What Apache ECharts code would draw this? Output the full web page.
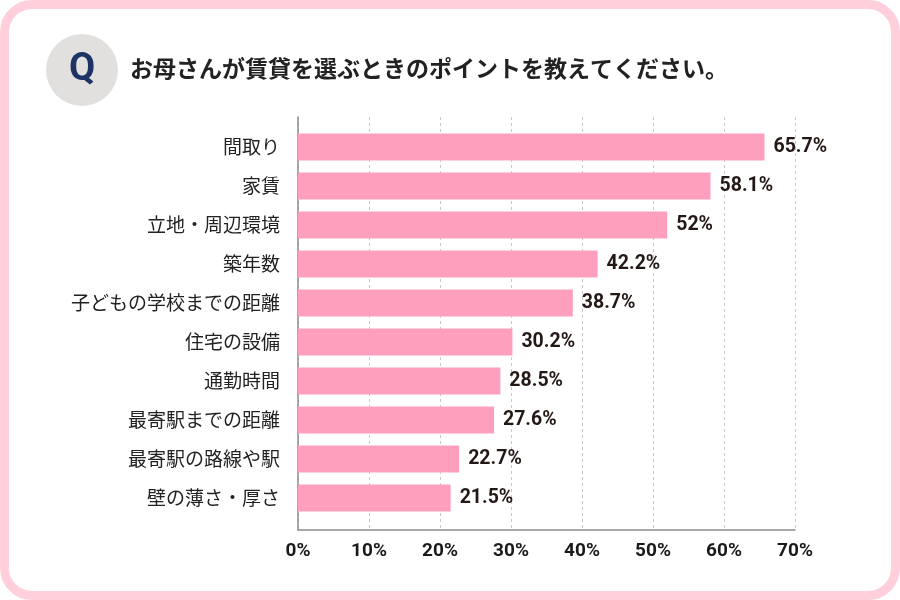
<!DOCTYPE html>
<html>
<head>
<meta charset="utf-8">
<script src="https://cdn.jsdelivr.net/npm/echarts@6/dist/echarts.min.js"></script>
<style>
  html, body { margin: 0; padding: 0; background: #fff; }
  #frame {
    position: absolute; left: 0; top: 0; width: 900px; height: 600px;
    box-sizing: border-box; border: 9px solid #ffd0dc; border-radius: 32px; background: #fff;
  }
  #chart { position: absolute; left: 0; top: 0; width: 900px; height: 600px; }
</style>
</head>
<body>
<div id="frame"></div>
<div id="chart"></div>
<script>
var questionText = 'お母さんが賃貸を選ぶときのポイントを教えてください。';

var categories = [
    '間取り', '家賃', '立地・周辺環境', '築年数', '子どもの学校までの距離',
    '住宅の設備', '通勤時間', '最寄駅までの距離', '最寄駅の路線や駅', '壁の薄さ・厚さ'
];
var percents = [65.7, 58.1, 52, 42.2, 38.7, 30.2, 28.5, 27.6, 22.7, 21.5];

var axisMin = 0;
var axisMax = 70;
var axisStep = 10;

var chartDom = document.getElementById('chart');
var myChart = echarts.init(chartDom);

var jpFont = '"Noto Sans CJK JP", "Noto Sans", sans-serif';
var numFont = 'Roboto, sans-serif';

var option = {
    animation: false,
    textStyle: { fontFamily: jpFont },
    title: [
        {
            text: questionText,
            left: 130,
            top: 57,
            padding: 0,
            textStyle: { fontSize: 23, fontWeight: 'bold', color: '#222', fontFamily: jpFont }
        },
        {
            text: 'Q',
            left: 82,
            top: 51,
            padding: 0,
            textAlign: 'center',
            textStyle: { fontSize: 38, fontWeight: 'bold', color: '#1d3365', fontFamily: numFont }
        }
    ],
    graphic: [
        {
            type: 'circle',
            z: -1,
            shape: { cx: 82, cy: 70, r: 36 },
            style: { fill: '#e2e0df' }
        }
    ],
    grid: [
        // bars
        { left: 298, right: 105, top: 127.5, bottom: 82.5 },
        // frame, split lines and ticks
        { left: 298, right: 105, top: 117, bottom: 70 }
    ],
    xAxis: [
        {
            gridIndex: 0, type: 'value', min: axisMin, max: axisMax, interval: axisStep,
            show: false
        },
        {
            gridIndex: 1, type: 'value', min: axisMin, max: axisMax, interval: axisStep,
            axisLine: { show: true, lineStyle: { color: '#8c8c8c', width: 1.5 } },
            axisTick: { show: false },
            splitLine: { show: true, lineStyle: { color: '#c8c8c8', type: [3, 3] } },
            axisLabel: {
                formatter: '{value}%', margin: 12, color: '#1a1a1a',
                fontSize: 19, fontWeight: 'bold', fontFamily: numFont
            }
        }
    ],
    yAxis: [
        {
            gridIndex: 0, type: 'category', data: categories, inverse: true,
            axisLine: { show: false },
            axisTick: { show: false },
            axisLabel: { margin: 18, color: '#222', fontSize: 19, fontFamily: jpFont }
        },
        {
            gridIndex: 1, type: 'value', min: 0, max: 1,
            axisLine: { show: true, lineStyle: { color: '#8c8c8c', width: 1.5 } },
            axisTick: { show: false },
            axisLabel: { show: false },
            splitLine: { show: false }
        }
    ],
    series: [{
        type: 'bar',
        xAxisIndex: 0,
        yAxisIndex: 0,
        data: percents,
        barWidth: 27,
        itemStyle: { color: '#fe9fbd' },
        label: {
            show: true,
            position: 'right',
            distance: 9,
            formatter: '{c}%',
            color: '#231815',
            fontSize: 19.5,
            fontWeight: 'bold',
            fontFamily: numFont
        }
    }]
};

myChart.setOption(option);
</script>
</body>
</html>
